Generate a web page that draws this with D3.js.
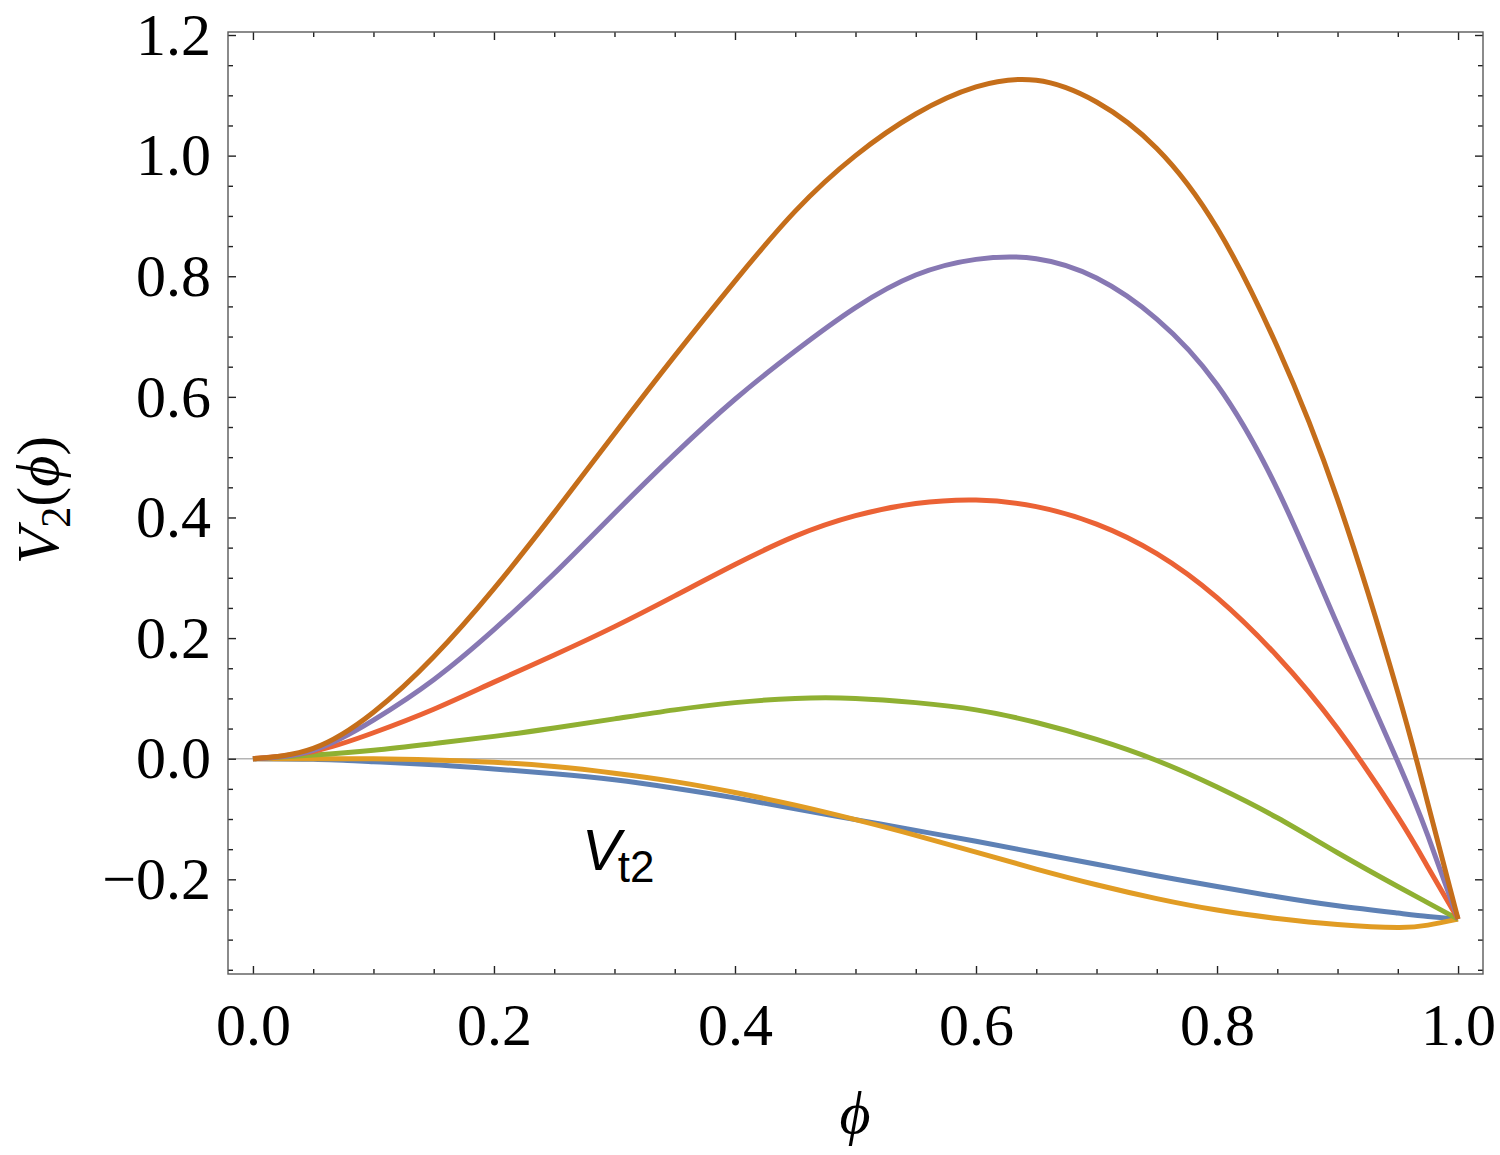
<!DOCTYPE html>
<html>
<head>
<meta charset="utf-8">
<script src="https://cdn.jsdelivr.net/npm/d3@7"></script>
<style>
  body { margin: 0; background: #fff; }
  svg { display: block; }
  .tick text { font-family: "Liberation Serif", "Times New Roman", serif; font-size: 60px; fill: #000; }
  .tick line { stroke: #222; stroke-width: 1.4; }
</style>
</head>
<body>
<div id="chart"></div>
<script>
const width = 1500;
const height = 1155;
const frame = {left: 228, right: 1483, top: 32, bottom: 974};

// phi grid the curves were read at
const phi = [0, 0.05, 0.1, 0.15, 0.2, 0.25, 0.3, 0.35, 0.4, 0.45, 0.5,
             0.55, 0.6, 0.65, 0.7, 0.75, 0.8, 0.85, 0.9, 0.95, 0.975, 1.0];

// V2(phi) values, one array per curve
const vBlue   = [0, -0.001, -0.005, -0.010, -0.017, -0.025, -0.035, -0.049, -0.065, -0.083, -0.101,
                 -0.119, -0.137, -0.156, -0.175, -0.194, -0.212, -0.229, -0.244, -0.256, -0.2615, -0.266];
const vOrange = [0, 0.000, 0.000, -0.002, -0.006, -0.013, -0.024, -0.038, -0.056, -0.077, -0.101,
                 -0.127, -0.155, -0.183, -0.209, -0.232, -0.251, -0.265, -0.275, -0.280, -0.276, -0.266];
const vGreen  = [0, 0.006, 0.014, 0.025, 0.037, 0.051, 0.066, 0.081, 0.093, 0.100, 0.100,
                 0.093, 0.081, 0.060, 0.032, -0.003, -0.047, -0.098, -0.156, -0.212, -0.239, -0.266];
const vRed    = [0, 0.012, 0.043, 0.082, 0.127, 0.172, 0.219, 0.270, 0.322, 0.369, 0.403,
                 0.423, 0.429, 0.418, 0.389, 0.340, 0.267, 0.170, 0.050, -0.096, -0.180, -0.266];
const vPurple = [0, 0.014, 0.064, 0.131, 0.214, 0.307, 0.407, 0.505, 0.596, 0.676, 0.748,
                 0.802, 0.828, 0.829, 0.797, 0.729, 0.620, 0.447, 0.222, -0.005, -0.128, -0.266];
const vBrown  = [0, 0.017, 0.077, 0.169, 0.282, 0.408, 0.539, 0.668, 0.792, 0.908, 1.000,
                 1.069, 1.114, 1.125, 1.089, 1.012, 0.880, 0.683, 0.430, 0.110, -0.075, -0.266];

const seriesValues = [vBlue, vOrange, vGreen, vRed, vPurple, vBrown];
const seriesColors = ["#5E81B5", "#E19C24", "#8FB032", "#EB6235", "#8778B3", "#C56E1A"];

const xMajor = [0, 0.2, 0.4, 0.6, 0.8, 1.0];
const yMajor = [-0.2, 0, 0.2, 0.4, 0.6, 0.8, 1.0, 1.2];

const svg = d3.select("#chart")
    .append("svg")
    .attr("width", width)
    .attr("height", height);

const xScale = d3.scaleLinear()
    .domain([-0.0207, 1.0207])
    .range([frame.left, frame.right]);
const yScale = d3.scaleLinear()
    .domain([-0.357, 1.205])
    .range([frame.bottom, frame.top]);

const xMinor = d3.range(0, 1.0001, 0.05).filter(v => !xMajor.some(m => Math.abs(m - v) < 1e-6));
const yMinor = d3.range(-0.35, 1.2001, 0.05).filter(v => !yMajor.some(m => Math.abs(m - v) < 1e-6));

const fmt = d => (d < 0 ? "\u2212" : "") + Math.abs(d).toFixed(1);

// zero axis line
svg.append("line")
    .attr("x1", frame.left).attr("x2", frame.right)
    .attr("y1", yScale(0)).attr("y2", yScale(0))
    .attr("stroke", "#b4b4b4")
    .attr("stroke-width", 1.4);

// curves
const line = d3.line()
    .x((d, i) => xScale(phi[i]))
    .y(d => yScale(d))
    .curve(d3.curveNatural);

svg.append("g")
    .attr("class", "curves")
  .selectAll("path")
  .data(seriesValues)
  .enter()
  .append("path")
    .attr("d", d => line(d))
    .attr("fill", "none")
    .attr("stroke", (d, i) => seriesColors[i])
    .attr("stroke-width", 5)
    .attr("stroke-linejoin", "round");

// frame ticks (inward)
function addAxis(axisFn, scale, values, size, labels, transform, padding) {
    const g = svg.append("g")
        .attr("transform", transform)
        .call(axisFn(scale)
            .tickValues(values)
            .tickSize(-size)
            .tickPadding(padding || 0)
            .tickFormat(labels ? fmt : ""));
    g.select(".domain").remove();
    return g;
}

addAxis(d3.axisBottom, xScale, xMajor, 8, true, `translate(0,${frame.bottom})`, 28);
addAxis(d3.axisBottom, xScale, xMinor, 5, false, `translate(0,${frame.bottom})`);
addAxis(d3.axisTop, xScale, xMajor, 8, false, `translate(0,${frame.top})`);
addAxis(d3.axisTop, xScale, xMinor, 5, false, `translate(0,${frame.top})`);
addAxis(d3.axisLeft, yScale, yMajor, 8, true, `translate(${frame.left},0)`, 17);
addAxis(d3.axisLeft, yScale, yMinor, 5, false, `translate(${frame.left},0)`);
addAxis(d3.axisRight, yScale, yMajor, 8, false, `translate(${frame.right},0)`);
addAxis(d3.axisRight, yScale, yMinor, 5, false, `translate(${frame.right},0)`);

// frame
svg.append("rect")
    .attr("x", frame.left).attr("y", frame.top)
    .attr("width", frame.right - frame.left)
    .attr("height", frame.bottom - frame.top)
    .attr("fill", "none")
    .attr("stroke", "#5a5a5a")
    .attr("stroke-width", 1.4);

// axis titles
svg.append("text")
    .attr("x", 855).attr("y", 1133)
    .attr("text-anchor", "middle")
    .attr("font-family", "Liberation Serif, serif")
    .attr("font-style", "italic")
    .attr("font-size", 60)
    .text("\u03D5");

const yTitle = svg.append("text")
    .attr("transform", "translate(58,500) rotate(-90)")
    .attr("text-anchor", "middle")
    .attr("font-family", "Liberation Serif, serif")
    .attr("font-size", 60);
yTitle.append("tspan").attr("font-style", "italic").text("V");
yTitle.append("tspan").attr("font-size", 42).attr("dy", 12).text("2");
yTitle.append("tspan").attr("dy", -12).text("(");
yTitle.append("tspan").attr("font-style", "italic").text("\u03D5");
yTitle.append("tspan").text(")");

// curve label
const vt = svg.append("text")
    .attr("x", 582).attr("y", 870)
    .attr("font-family", "Liberation Sans, Arial, sans-serif")
    .attr("font-size", 58);
vt.append("tspan").attr("font-style", "italic").text("V");
vt.append("tspan").attr("font-size", 44).attr("dy", 12).attr("dx", -3).text("t2");
</script>
</body>
</html>
